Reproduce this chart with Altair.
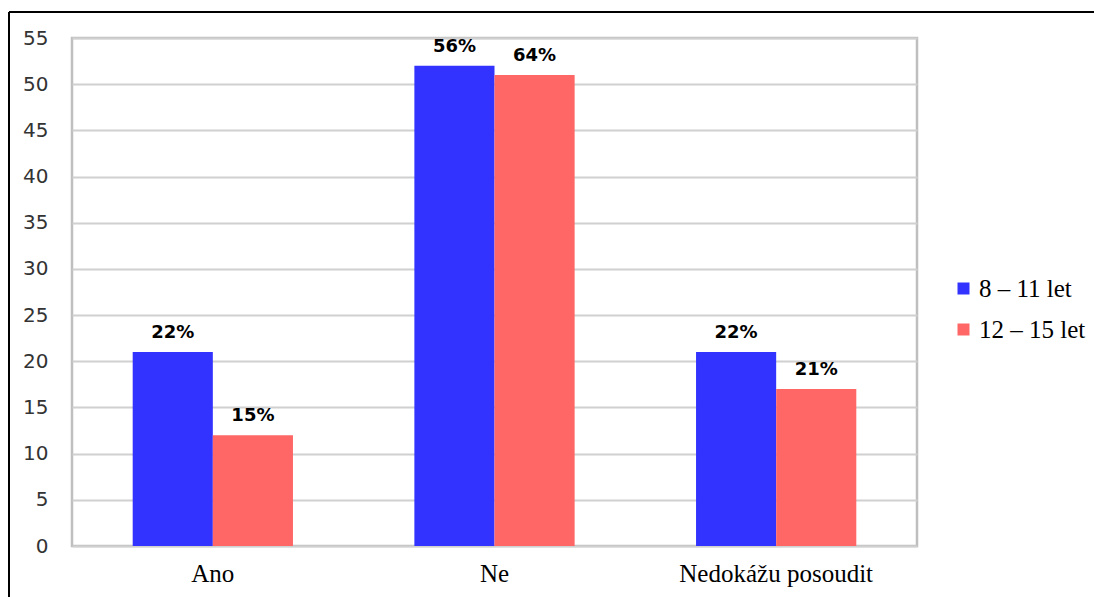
import altair as alt
import pandas as pd

# Answer categories, age groups, respondent counts and group percentages
categories = ["Ano", "Ne", "Nedokážu posoudit"]
groups = ["8 – 11 let", "12 – 15 let"]
counts_8_11 = [21, 52, 21]
counts_12_15 = [12, 51, 17]
pct_8_11 = [22, 56, 22]
pct_12_15 = [15, 64, 21]
colors = ["#3333FF", "#FF6666"]
y_ticks = list(range(0, 56, 5))

rows = []
for i, cat in enumerate(categories):
    rows.append({"kategorie": cat, "skupina": groups[0], "pocet": counts_8_11[i],
                 "popisek": f"{pct_8_11[i]}%"})
    rows.append({"kategorie": cat, "skupina": groups[1], "pocet": counts_12_15[i],
                 "popisek": f"{pct_12_15[i]}%"})
df = pd.DataFrame(rows)

x_enc = alt.X("kategorie:N", sort=categories, title=None,
              scale=alt.Scale(paddingInner=0.431, paddingOuter=0.2155),
              axis=alt.Axis(labelAngle=0, labelFont="Liberation Serif", labelFontSize=25,
                            labelColor="#000000", labelPadding=15, ticks=False,
                            domain=False, labelLimit=0))
xoff_enc = alt.XOffset("skupina:N", sort=groups)
y_enc = alt.Y("pocet:Q", title=None,
              scale=alt.Scale(domain=[0, 55], nice=False),
              axis=alt.Axis(values=y_ticks, labelFont="DejaVu Sans", labelFontSize=20,
                            labelColor="#333333", labelPadding=24, ticks=False,
                            domain=False, gridColor="#D0D0D0", gridWidth=2))

bars = alt.Chart(df).mark_bar().encode(
    x=x_enc,
    xOffset=xoff_enc,
    y=y_enc,
    color=alt.Color("skupina:N", sort=groups, title=None,
                    scale=alt.Scale(domain=groups, range=colors),
                    legend=alt.Legend(orient="none", legendX=879, legendY=238,
                                      symbolType="square", symbolSize=144,
                                      symbolStrokeWidth=0, labelFont="Liberation Serif",
                                      labelFontSize=25, labelColor="#000000",
                                      labelOffset=3, rowPadding=15, padding=0)),
)

labels = alt.Chart(df).mark_text(
    font="DejaVu Sans", fontSize=18, fontWeight="bold", color="#000000",
    baseline="bottom", dy=-10,
).encode(
    x=alt.X("kategorie:N", sort=categories),
    xOffset=xoff_enc,
    y=alt.Y("pocet:Q"),
    text="popisek:N",
)

# Outer frame: top and left edges of the chart box
frame_df = pd.DataFrame({"k": [0]})
frame_top = alt.Chart(frame_df).mark_rule(color="#000000", strokeWidth=2).encode(
    x=alt.value(-63), x2=alt.value(1030), y=alt.value(-26))
frame_left = alt.Chart(frame_df).mark_rule(color="#000000", strokeWidth=2).encode(
    x=alt.value(-63), y=alt.value(-26), y2=alt.value(600))

chart = alt.layer(bars, labels, frame_top, frame_left).properties(
    width=845, height=508,
    autosize=alt.AutoSizeParams(type="none"),
    padding={"left": 72, "top": 38, "right": 177, "bottom": 51},
    background="#FFFFFF",
).configure_view(
    stroke="#BFBFBF", strokeWidth=2.5,
)

chart.save("out.html", embed_options={"renderer": "svg", "actions": False})
